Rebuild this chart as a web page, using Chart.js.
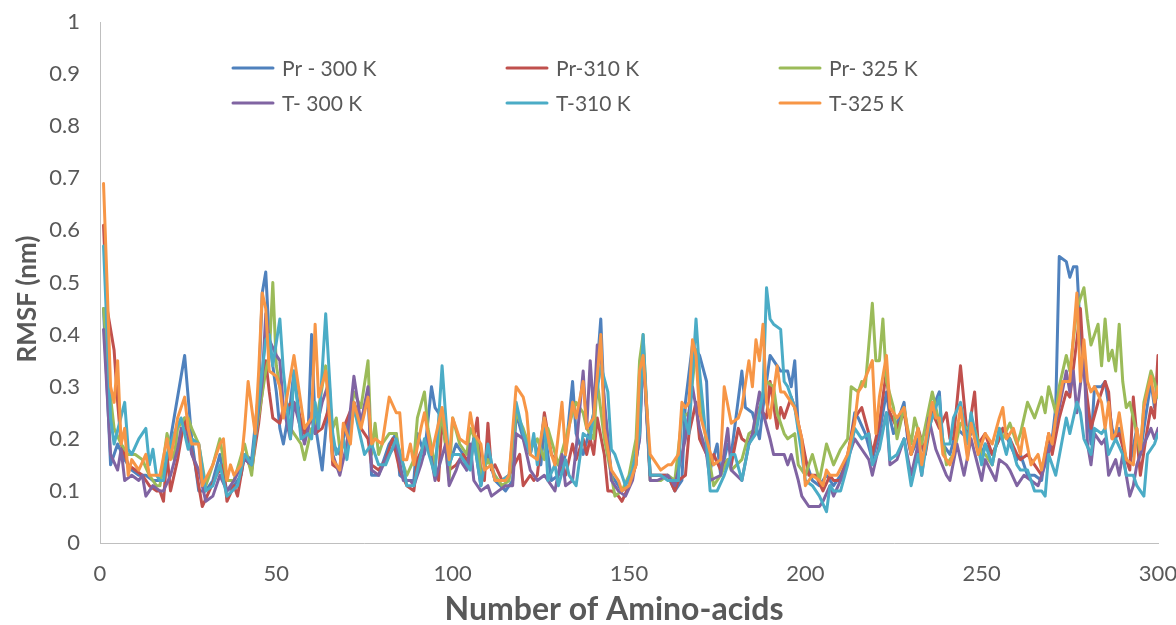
<!DOCTYPE html>
<html><head><meta charset="utf-8">
<script src="https://cdn.jsdelivr.net/npm/chart.js@4.4.1/dist/chart.umd.min.js"></script>
<style>html,body{margin:0;padding:0;background:#fff;}#wrap{width:1176px;height:625px;}</style>
</head><body><div id="wrap"><canvas id="c" width="1176" height="625"></canvas></div>
<script>
const seriesLabels = ['Pr - 300 K', 'Pr-310 K', 'Pr- 325 K', 'T- 300 K', 'T-310 K', 'T-325 K'];
const seriesColors = ['#4F81BD', '#C0504D', '#9BBB59', '#8064A2', '#4BACC6', '#F79646'];
const xTickValues = [0, 50, 100, 150, 200, 250, 300];
const yTickValues = [0, 0.1, 0.2, 0.3, 0.4, 0.5, 0.6, 0.7, 0.8, 0.9, 1];
const xTitle = 'Number of Amino-acids';
const yTitle = 'RMSF (nm)';

const pr300Res = [1,3,5,7,9,11,13,15,17,19,21,23,24,26,28,30,32,34,35,36,38,40,41,43,45,46,47,48,50,51,52,54,55,57,59,60,61,63,65,66,68,69,72,74,76,77,79,81,82,84,85,87,89,90,92,94,95,97,99,101,103,104,106,108,110,112,115,117,118,120,122,123,125,126,128,130,132,134,135,137,139,140,142,143,144,145,147,148,150,152,153,154,156,159,161,163,165,166,168,170,172,173,175,176,178,179,182,183,185,187,188,190,192,193,195,196,197,198,200,202,204,206,208,210,212,214,215,217,219,221,223,224,225,228,229,230,232,234,235,238,239,241,243,246,248,250,251,253,255,256,258,260,261,263,265,267,268,270,271,272,274,275,276,277,278,279,280,281,282,284,285,287,288,289,291,292,294,295,296,298,299,300];
const pr300Rmsf = [.45,.15,.19,.16,.14,.13,.13,.12,.12,.16,.24,.32,.36,.20,.10,.10,.12,.17,.13,.10,.11,.13,.17,.16,.29,.48,.52,.39,.29,.22,.19,.27,.33,.22,.21,.40,.23,.14,.29,.19,.17,.20,.27,.23,.29,.13,.13,.17,.19,.21,.13,.12,.12,.21,.17,.30,.26,.24,.15,.19,.17,.14,.20,.11,.17,.12,.10,.12,.25,.20,.17,.20,.15,.22,.12,.13,.17,.31,.21,.17,.22,.25,.43,.26,.20,.13,.11,.10,.11,.16,.20,.38,.13,.13,.13,.10,.12,.27,.38,.36,.31,.14,.19,.13,.19,.17,.33,.26,.25,.20,.26,.36,.34,.33,.33,.30,.35,.22,.16,.12,.11,.13,.11,.13,.16,.25,.24,.21,.16,.21,.29,.24,.21,.27,.20,.17,.20,.17,.24,.29,.19,.17,.22,.20,.22,.17,.19,.17,.20,.22,.19,.16,.17,.13,.13,.12,.17,.20,.26,.55,.54,.51,.53,.53,.40,.34,.25,.19,.30,.30,.31,.22,.20,.22,.16,.15,.22,.17,.22,.31,.26,.30];

const pr310Res = [1,2,4,5,6,8,10,12,14,16,17,18,19,20,22,24,25,27,29,31,33,35,36,38,39,41,43,45,47,48,49,51,52,55,56,58,60,61,63,65,66,68,69,72,74,76,77,79,81,83,85,87,89,90,92,94,96,97,99,101,103,105,106,107,108,109,110,111,112,114,116,119,120,122,123,124,126,128,130,132,134,135,137,138,139,140,141,143,144,145,147,148,150,152,153,154,156,159,161,163,164,166,167,169,170,172,173,174,176,178,179,181,182,184,186,187,189,190,192,193,194,196,197,199,201,203,205,207,208,210,212,214,216,218,219,221,223,224,226,228,230,232,234,236,238,240,241,242,244,246,248,249,251,253,255,256,258,260,261,263,265,267,269,270,272,274,275,277,278,279,281,283,285,286,287,289,291,292,293,295,297,298,299,300];
const pr310Rmsf = [.61,.45,.37,.27,.19,.15,.14,.13,.11,.10,.10,.08,.17,.10,.16,.24,.20,.15,.07,.10,.13,.15,.08,.11,.09,.17,.14,.23,.35,.29,.24,.23,.26,.27,.26,.21,.24,.21,.22,.26,.15,.14,.22,.27,.22,.20,.15,.14,.16,.20,.14,.11,.10,.16,.19,.17,.12,.24,.14,.15,.17,.15,.20,.24,.13,.12,.23,.14,.15,.12,.13,.17,.11,.13,.12,.13,.25,.17,.15,.13,.19,.16,.20,.17,.20,.17,.24,.17,.10,.10,.09,.08,.11,.15,.25,.38,.13,.13,.13,.10,.12,.13,.21,.27,.20,.17,.15,.17,.14,.16,.15,.22,.20,.19,.22,.26,.24,.31,.22,.26,.24,.28,.26,.20,.13,.13,.10,.13,.12,.12,.17,.24,.26,.21,.17,.23,.33,.25,.22,.25,.17,.22,.17,.25,.22,.25,.20,.20,.34,.20,.29,.19,.21,.17,.20,.22,.20,.17,.16,.17,.15,.13,.21,.17,.24,.29,.28,.39,.45,.33,.22,.27,.31,.29,.20,.21,.16,.14,.28,.13,.22,.26,.24,.36];

const pr325Res = [1,3,4,6,8,10,12,14,16,17,19,21,22,24,25,26,28,30,32,34,36,38,41,43,44,47,48,49,50,52,54,57,58,60,61,64,66,67,68,70,72,74,76,77,78,79,80,82,84,85,87,89,90,92,93,95,97,99,100,102,104,105,107,108,110,112,114,116,118,120,122,124,126,127,130,132,134,135,137,138,140,141,143,145,146,148,150,152,153,154,156,159,161,163,165,167,169,170,172,174,176,178,179,182,184,186,188,189,191,192,194,195,197,198,200,202,204,206,208,210,212,213,215,216,217,219,220,221,222,223,225,226,228,229,230,231,233,236,237,239,240,242,244,246,248,250,251,253,255,256,258,260,261,263,265,267,268,269,271,272,274,275,277,279,280,281,283,284,285,286,287,288,289,290,291,292,294,295,296,298,299,300];
const pr325Rmsf = [.45,.28,.22,.19,.17,.17,.16,.13,.11,.11,.21,.16,.22,.24,.24,.22,.19,.11,.15,.20,.12,.12,.19,.13,.20,.33,.36,.50,.34,.26,.22,.19,.16,.22,.22,.34,.22,.24,.18,.19,.29,.26,.35,.17,.23,.17,.19,.21,.21,.17,.13,.16,.24,.29,.22,.15,.25,.12,.24,.19,.17,.22,.19,.13,.16,.13,.11,.12,.25,.22,.18,.20,.16,.22,.15,.20,.25,.27,.25,.22,.20,.31,.20,.13,.09,.10,.13,.20,.35,.40,.12,.12,.13,.12,.24,.25,.37,.29,.19,.11,.13,.16,.14,.16,.21,.22,.29,.31,.30,.25,.21,.20,.21,.15,.13,.17,.12,.19,.15,.18,.20,.30,.29,.31,.30,.46,.35,.35,.43,.31,.26,.20,.26,.22,.19,.24,.19,.29,.26,.20,.15,.17,.23,.22,.22,.17,.17,.15,.22,.20,.23,.19,.21,.27,.24,.28,.25,.30,.25,.30,.36,.33,.45,.49,.43,.38,.42,.34,.43,.35,.37,.33,.42,.31,.26,.27,.21,.17,.27,.33,.31,.28];

const t300Res = [1,3,5,6,7,9,11,12,13,15,17,18,20,22,23,25,26,28,30,32,34,36,38,41,43,46,47,48,50,51,52,54,55,58,60,61,63,65,66,68,70,72,74,76,77,79,81,84,86,88,89,91,93,95,98,99,101,102,104,105,106,108,110,111,113,115,117,118,120,121,122,124,126,128,129,131,132,134,135,137,138,139,140,141,142,144,145,147,149,151,153,154,156,158,161,163,166,168,170,172,173,176,178,179,182,184,185,187,188,190,191,192,194,195,196,198,199,201,203,204,205,207,208,210,212,214,216,218,219,221,223,224,226,228,230,232,233,235,237,240,241,243,245,247,250,251,254,255,257,258,260,262,264,266,268,270,272,274,275,276,277,279,280,281,282,283,284,285,286,288,289,290,292,293,294,296,298,299,300];
const t300Rmsf = [.41,.17,.14,.18,.12,.13,.12,.13,.09,.11,.10,.10,.13,.18,.22,.21,.17,.14,.08,.09,.13,.10,.12,.16,.15,.31,.44,.39,.36,.35,.26,.20,.27,.19,.25,.21,.27,.31,.17,.13,.19,.32,.23,.30,.14,.13,.16,.19,.12,.12,.11,.15,.20,.12,.19,.11,.14,.16,.14,.19,.12,.10,.11,.09,.10,.11,.11,.21,.20,.17,.14,.12,.13,.11,.10,.17,.11,.12,.18,.33,.22,.35,.25,.38,.35,.20,.12,.10,.09,.12,.20,.37,.12,.12,.13,.11,.20,.30,.22,.17,.12,.13,.22,.14,.12,.19,.21,.29,.25,.20,.17,.17,.17,.15,.17,.12,.09,.07,.07,.07,.08,.11,.09,.12,.16,.20,.18,.16,.13,.19,.25,.15,.16,.20,.13,.19,.13,.24,.18,.13,.12,.19,.13,.20,.12,.16,.12,.16,.15,.14,.11,.13,.12,.11,.15,.20,.26,.33,.29,.33,.25,.36,.19,.15,.21,.20,.19,.20,.13,.16,.13,.17,.09,.11,.15,.19,.22,.20,.22];

const t310Res = [1,3,4,7,8,9,11,13,14,15,16,17,18,19,21,23,25,26,28,30,32,34,36,39,41,43,46,47,48,49,51,52,54,55,57,59,60,61,62,64,66,67,69,70,72,74,75,77,79,81,84,86,87,89,91,92,95,97,99,100,102,105,106,108,110,112,114,116,118,120,122,123,124,126,127,129,130,132,133,135,137,139,140,142,144,145,146,148,149,151,153,154,156,159,161,164,165,167,169,170,172,173,175,177,179,180,182,184,186,188,189,190,191,193,194,195,197,199,200,202,204,206,207,208,210,212,214,216,218,219,221,223,224,226,228,230,232,233,235,238,239,241,242,244,246,247,250,251,253,255,257,258,260,261,263,265,267,268,269,271,274,275,277,278,279,281,282,284,285,286,288,290,291,293,294,296,297,299,300];
const t310Rmsf = [.57,.24,.19,.27,.18,.17,.20,.22,.15,.18,.13,.12,.12,.17,.21,.24,.18,.20,.19,.10,.11,.15,.09,.11,.17,.15,.33,.39,.40,.34,.43,.33,.20,.33,.20,.21,.20,.27,.22,.44,.21,.17,.20,.16,.26,.20,.17,.19,.15,.15,.20,.15,.11,.11,.17,.20,.13,.34,.15,.17,.17,.14,.20,.11,.19,.12,.12,.13,.27,.21,.17,.21,.15,.24,.12,.15,.11,.16,.13,.11,.21,.20,.25,.34,.29,.18,.17,.13,.11,.14,.21,.40,.13,.13,.12,.12,.26,.21,.43,.33,.19,.10,.10,.13,.17,.17,.12,.19,.21,.29,.49,.43,.42,.41,.31,.30,.26,.17,.12,.11,.09,.06,.11,.10,.10,.15,.22,.20,.21,.15,.18,.25,.16,.17,.20,.11,.17,.13,.22,.28,.19,.19,.24,.27,.19,.25,.15,.19,.15,.22,.17,.20,.15,.14,.14,.10,.10,.09,.17,.13,.24,.21,.27,.25,.20,.17,.22,.21,.22,.17,.20,.17,.13,.13,.11,.09,.17,.19,.21];

const t325Res = [1,2,3,4,5,6,7,8,9,11,13,14,16,17,19,20,22,24,25,26,28,29,32,34,35,36,37,38,40,41,42,44,45,46,47,48,50,51,52,55,58,60,61,62,64,66,68,69,71,72,74,76,77,78,80,82,84,85,86,87,88,89,91,92,94,97,99,100,102,104,105,106,108,109,111,112,113,115,116,118,120,121,122,124,126,128,129,131,132,134,135,137,138,140,142,143,145,147,148,150,152,153,154,156,157,159,161,162,164,165,166,167,168,169,170,172,174,176,177,179,181,182,184,185,186,187,188,189,190,192,193,194,196,197,199,200,202,204,205,206,207,209,212,214,215,216,219,220,221,223,224,226,228,230,232,233,236,237,238,239,241,242,244,246,247,249,251,253,255,256,257,259,261,262,264,266,267,269,270,271,273,275,277,278,279,280,281,282,284,285,286,287,288,289,291,293,294,295,296,298,299,300];
const t325Rmsf = [.69,.50,.30,.27,.35,.19,.22,.13,.16,.14,.17,.13,.13,.13,.20,.16,.24,.28,.22,.19,.19,.11,.15,.19,.20,.12,.15,.13,.15,.22,.31,.21,.33,.48,.45,.33,.32,.30,.24,.36,.22,.24,.42,.28,.33,.16,.14,.23,.19,.27,.22,.28,.19,.20,.19,.28,.25,.25,.16,.16,.19,.15,.22,.25,.17,.26,.16,.24,.20,.19,.25,.21,.19,.14,.15,.12,.12,.12,.13,.30,.28,.25,.17,.16,.24,.17,.15,.27,.17,.27,.24,.31,.22,.24,.40,.22,.14,.12,.10,.11,.15,.33,.36,.17,.16,.14,.15,.15,.17,.27,.26,.27,.39,.36,.25,.20,.15,.16,.30,.23,.24,.26,.35,.30,.39,.35,.42,.27,.24,.34,.29,.29,.27,.26,.20,.11,.13,.12,.11,.14,.13,.13,.17,.23,.29,.30,.35,.21,.28,.36,.26,.24,.26,.17,.22,.15,.27,.24,.24,.17,.15,.17,.26,.16,.23,.17,.21,.19,.24,.26,.20,.22,.17,.22,.15,.17,.14,.21,.19,.24,.31,.31,.48,.31,.39,.31,.29,.30,.27,.22,.27,.20,.21,.25,.16,.15,.22,.18,.26,.32,.27,.30];

const allRes = [pr300Res, pr310Res, pr325Res, t300Res, t310Res, t325Res];
const allRmsf = [pr300Rmsf, pr310Rmsf, pr325Rmsf, t300Rmsf, t310Rmsf, t325Rmsf];

const FONT = 'Lato, "Open Sans", sans-serif';
const TEXT = '#595959';
const legendSpots = [[233, 68], [507, 68], [780, 68], [233, 103], [507, 103], [780, 103]];

const datasets = seriesLabels.map((lab, i) => {
  const n = Math.min(allRes[i].length, allRmsf[i].length);
  const pts = [];
  for (let k = 0; k < n; k++) pts.push({x: allRes[i][k], y: allRmsf[i][k]});
  return {
    label: lab, data: pts, borderColor: seriesColors[i], backgroundColor: seriesColors[i],
    borderWidth: 3, pointRadius: 0, pointHoverRadius: 0, tension: 0, fill: false,
    borderJoinStyle: 'round', borderCapStyle: 'round', order: seriesLabels.length - i
  };
});

const insideLegend = {
  id: 'insideLegend',
  afterDatasetsDraw(chart) {
    const ctx = chart.ctx;
    chart.data.datasets.forEach((ds, i) => {
      const [x, y] = legendSpots[i];
      ctx.save();
      ctx.strokeStyle = ds.borderColor; ctx.lineWidth = 3; ctx.lineCap = 'round';
      ctx.beginPath(); ctx.moveTo(x, y); ctx.lineTo(x + 40, y); ctx.stroke();
      ctx.fillStyle = TEXT; ctx.font = '21px ' + FONT; ctx.textBaseline = 'middle'; ctx.textAlign = 'left';
      ctx.fillText(ds.label, x + 49, y + 1);
      ctx.restore();
    });
  }
};

const axisTitles = {
  id: 'axisTitles',
  afterDraw(chart) {
    const ctx = chart.ctx;
    ctx.save();
    ctx.fillStyle = TEXT; ctx.textAlign = 'center'; ctx.textBaseline = 'middle';
    ctx.font = 'bold 32px ' + FONT;
    ctx.fillText(xTitle, 614, 610);
    ctx.translate(28, 299); ctx.rotate(-Math.PI / 2);
    ctx.font = 'bold 26px ' + FONT;
    ctx.fillText(yTitle, 0, 0);
    ctx.restore();
  }
};

new Chart(document.getElementById('c'), {
  type: 'line',
  data: {datasets},
  plugins: [insideLegend, axisTitles],
  options: {
    responsive: false, animation: false, devicePixelRatio: 1,
    layout: {padding: 0},
    plugins: {legend: {display: false}, tooltip: {enabled: false}},
    scales: {
      x: {
        type: 'linear', min: 0, max: 300,
        afterBuildTicks: s => { s.ticks = xTickValues.map(v => ({value: v})); },
        afterFit: s => { s.height = 82; s.paddingLeft = 0; s.paddingRight = 18; },
        grid: {display: false, drawTicks: false},
        border: {display: true, color: '#bfbfbf', width: 1},
        ticks: {color: TEXT, font: {family: FONT, size: 22}, padding: 18, maxRotation: 0},
        title: {display: false}
      },
      y: {
        min: 0, max: 1,
        afterBuildTicks: s => { s.ticks = yTickValues.map(v => ({value: v})); },
        afterFit: s => { s.width = 100; s.paddingTop = 22; s.paddingBottom = 0; },
        grid: {display: false, drawTicks: false},
        border: {display: true, color: '#bfbfbf', width: 1},
        ticks: {color: TEXT, font: {family: FONT, size: 22}, padding: 20, callback: v => String(Math.round(v * 10) / 10)},
        title: {display: false}
      }
    }
  }
});
</script></body></html>
